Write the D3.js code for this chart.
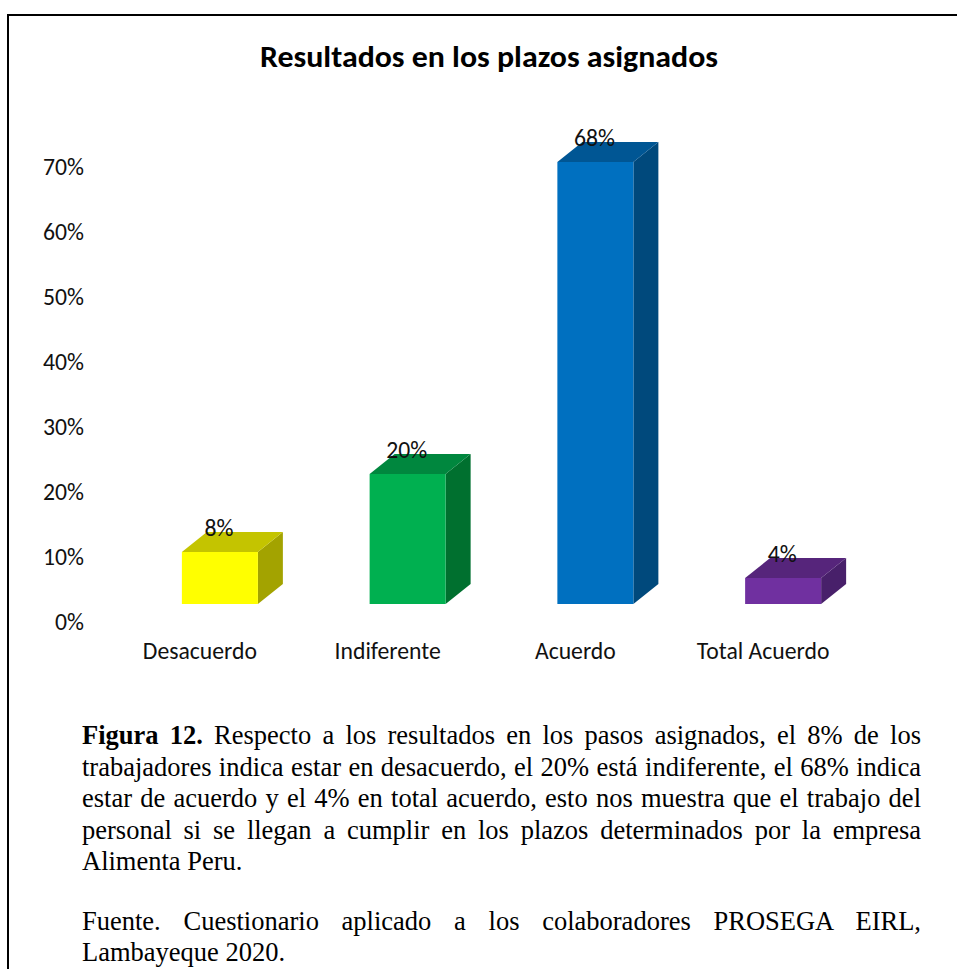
<!DOCTYPE html>
<html>
<head>
<meta charset="utf-8">
<script src="https://d3js.org/d3.v7.min.js"></script>
<style>
  html, body { margin: 0; padding: 0; background: #fff; }
  svg { display: block; }
</style>
</head>
<body>
<div id="svgWrapper"></div>
<script>
var fullWidth = 957, fullHeight = 969;

var categories = ["Desacuerdo", "Indiferente", "Acuerdo", "Total Acuerdo"];
var values = [8, 20, 68, 4];
var barColors = ["#ffff00", "#00b050", "#0070c0", "#7030a0"];
var topColors = ["#c4c400", "#00873e", "#005694", "#56257b"];
var sideColors = ["#a3a300", "#00702f", "#00497c", "#48206a"];
var yTicks = [0, 10, 20, 30, 40, 50, 60, 70];

var captionLines = [
  "Respecto a los resultados en los pasos asignados, el 8% de los",
  "trabajadores indica estar en desacuerdo, el 20% está indiferente, el 68% indica",
  "estar de acuerdo y el 4% en total acuerdo, esto nos muestra que el trabajo del",
  "personal si se llegan a cumplir en los plazos determinados por la empresa",
  "Alimenta Peru."
];
var sourceLines = [
  "Fuente. Cuestionario aplicado a los colaboradores PROSEGA EIRL,",
  "Lambayeque 2020."
];

var chartFont = "Carlito, Calibri, 'Open Sans', 'Noto Sans', sans-serif";
var textFont = "'Liberation Serif', 'Times New Roman', serif";
var labelSize = "23.7px";

var svg = d3.select("#svgWrapper").append("svg")
  .attr("width", fullWidth)
  .attr("height", fullHeight);

svg.append("rect").attr("width", fullWidth).attr("height", fullHeight).attr("fill", "white");

// frame, open at the bottom and right edge of the page
svg.append("path")
  .attr("d", "M8,969 V15 H957")
  .attr("fill", "none")
  .attr("stroke", "black")
  .attr("stroke-width", 2);

// title
svg.append("text")
  .attr("x", 489)
  .attr("y", 67)
  .attr("text-anchor", "middle")
  .style("font-family", chartFont)
  .style("font-size", "31px")
  .style("font-weight", "bold")
  .attr("textLength", 458)
  .attr("lengthAdjust", "spacingAndGlyphs")
  .text("Resultados en los plazos asignados");

// scales
var xScale = d3.scaleBand().domain(categories).range([126, 877]);
var yScale = d3.scaleLinear().domain([0, 70]).range([622, 167]);

var yAxis = svg.append("g")
  .attr("transform", "translate(84,0)")
  .call(d3.axisLeft(yScale).tickValues(yTicks).tickSize(0).tickPadding(0).tickFormat(function(d) { return d + "%"; }));
yAxis.select(".domain").remove();
yAxis.selectAll("text")
  .style("font-family", chartFont)
  .style("font-size", labelSize)
  .style("fill", "#111");

// the 3d box stands above the label baseline
var floorShift = 18, depthX = 25, depthY = 20, barWidth = 76;

var bars = svg.selectAll("g.bar")
  .data(categories)
  .enter().append("g")
  .attr("class", "bar");

function barX(d) { return xScale(d) + (xScale.bandwidth() - barWidth) / 2; }
function barTop(d, i) { return yScale(values[i]) - floorShift; }
var base = yScale(0) - floorShift;

bars.append("polygon") // side
  .attr("fill", function(d, i) { return sideColors[i]; })
  .attr("points", function(d, i) {
    var r = barX(d) + barWidth, t = barTop(d, i);
    return [[r, t], [r + depthX, t - depthY], [r + depthX, base - depthY], [r, base]].join(" ");
  });

bars.append("polygon") // top
  .attr("fill", function(d, i) { return topColors[i]; })
  .attr("points", function(d, i) {
    var l = barX(d), t = barTop(d, i);
    return [[l, t], [l + depthX, t - depthY], [l + barWidth + depthX, t - depthY], [l + barWidth, t]].join(" ");
  });

bars.append("rect") // front
  .attr("x", barX)
  .attr("y", barTop)
  .attr("width", barWidth)
  .attr("height", function(d, i) { return base - barTop(d, i); })
  .attr("fill", function(d, i) { return barColors[i]; });

// value labels
bars.append("text")
  .attr("x", function(d) { return barX(d) + barWidth / 2 - 1; })
  .attr("y", function(d, i) { return barTop(d, i) - 16; })
  .attr("text-anchor", "middle")
  .style("font-family", chartFont)
  .style("font-size", labelSize)
  .style("fill", "#111")
  .text(function(d, i) { return values[i] + "%"; });

// category labels
svg.selectAll("text.cat")
  .data(categories)
  .enter().append("text")
  .attr("class", "cat")
  .attr("x", function(d) { return barX(d) + barWidth / 2 - 20; })
  .attr("y", 659)
  .attr("text-anchor", "middle")
  .style("font-family", chartFont)
  .style("font-size", labelSize)
  .style("fill", "#111")
  .text(function(d) { return d; });

// caption, justified between the two margins by stretching the word gaps
var textLeft = 82, textWidth = 839;

function justified(lines, startY, lineGap, firstPrefix) {
  lines.forEach(function(line, i) {
    var t = svg.append("text")
      .attr("x", textLeft)
      .attr("y", startY + i * lineGap)
      .style("font-family", textFont)
      .style("font-size", "26.5px")
      .style("fill", "#000");
    if (firstPrefix && i == 0) {
      t.append("tspan").style("font-weight", "bold").text(firstPrefix + " ");
    }
    t.append("tspan").text(line);
    if (i < lines.length - 1) {
      var gaps = t.text().split(" ").length - 1;
      t.style("word-spacing", (textWidth - t.node().getComputedTextLength()) / gaps + "px");
    }
  });
}
justified(captionLines, 744, 31.5, "Figura 12.");
justified(sourceLines, 930, 31);
</script>
</body>
</html>
